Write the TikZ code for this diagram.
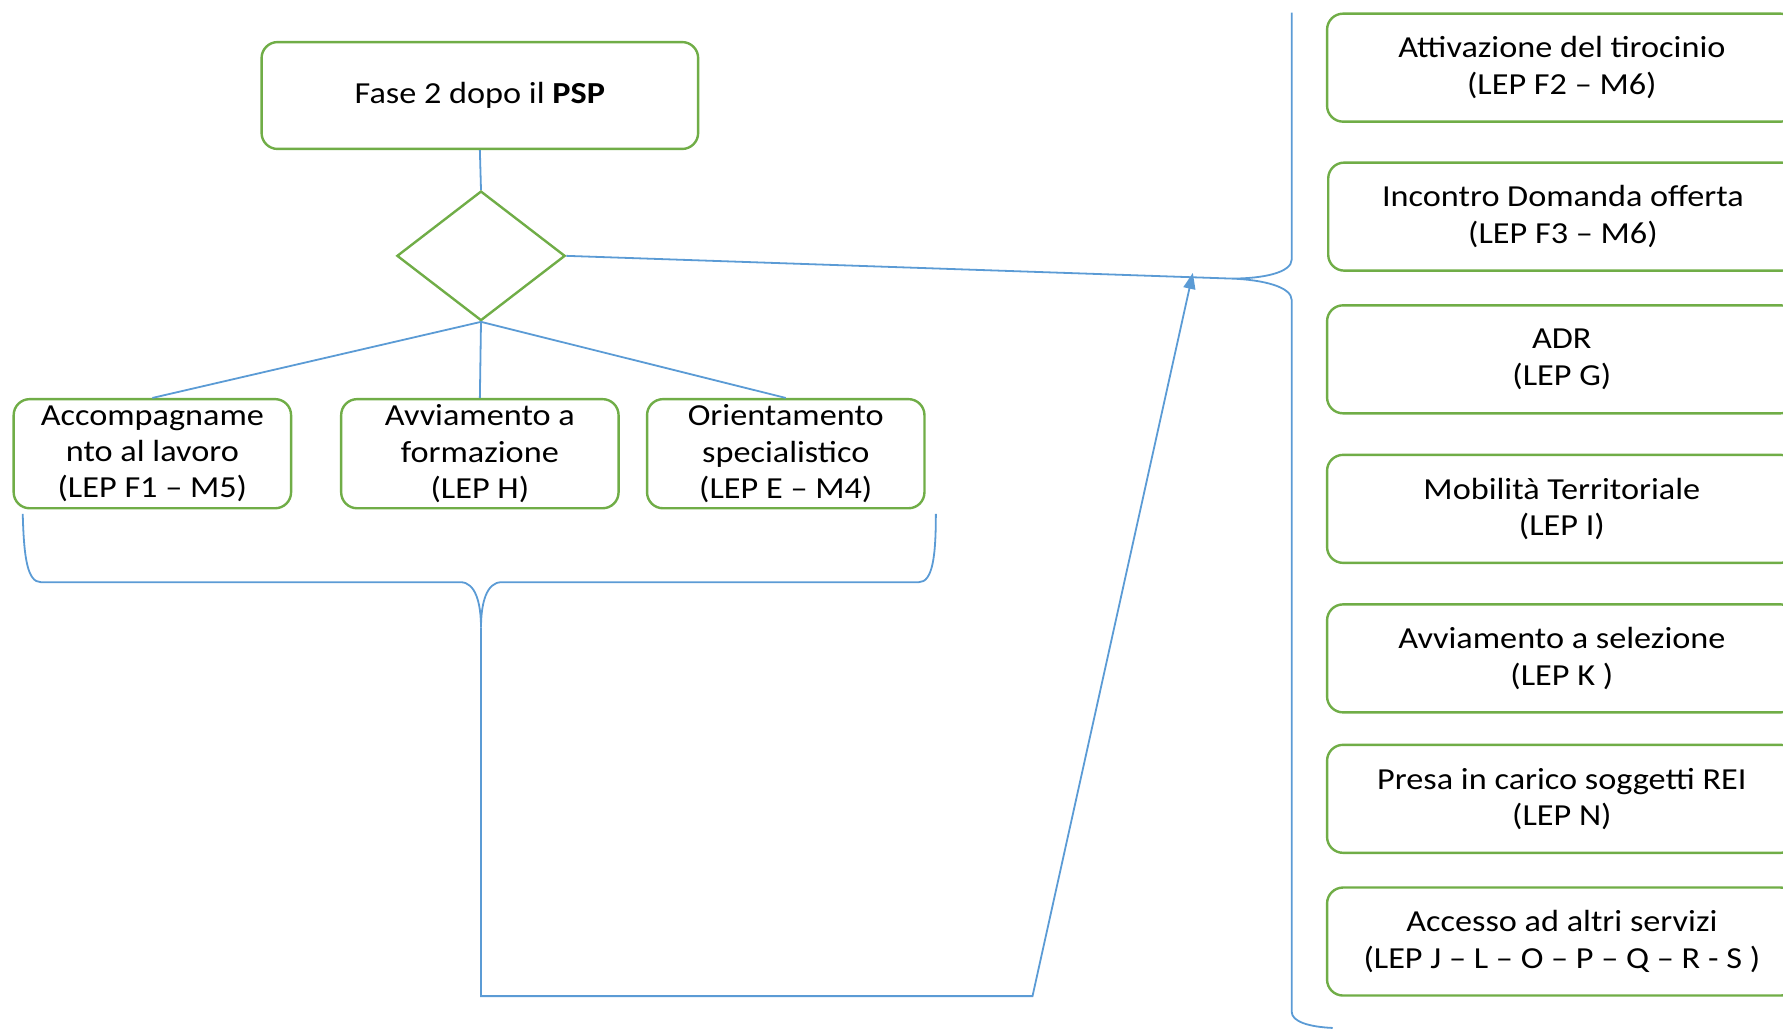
\documentclass[tikz,border=0pt]{standalone}
\usepackage{fontspec}
\setmainfont{Carlito}[FakeStretch=1.12]
\usetikzlibrary{shapes.geometric,arrows.meta}
\definecolor{boxgreen}{HTML}{70AD47}
\definecolor{lineblue}{HTML}{5B9BD5}
\begin{document}
\begin{tikzpicture}[x=0.02cm,y=-0.02cm,
  gbox/.style={draw=boxgreen,line width=1.2pt,rounded corners=8pt,align=center,inner sep=0pt,font=\fontsize{15.3}{18.2}\selectfont},
  lbox/.style={gbox,minimum width=4.88cm,minimum height=1.92cm},
  rbox/.style={gbox,minimum width=8.26cm,minimum height=1.9cm},
  conn/.style={draw=lineblue,line width=0.9pt}]
\useasboundingbox (0,0) rectangle (1568,905);
\clip (0,0) rectangle (1568,905);
% top and decision
\node[gbox,minimum width=7.68cm,minimum height=1.88cm] (top) at (422,84) {Fase 2 dopo il \textbf{PSP}};
\node[draw=boxgreen,line width=1.2pt,diamond,minimum width=2.96cm,minimum height=2.28cm,inner sep=0pt] (dec) at (423,225) {};
% left boxes
\node[lbox] (b1) at (134,399) {Accompagname\\nto al lavoro\\(LEP F1 – M5)};
\node[lbox] (b2) at (422,399) {Avviamento a\\formazione\\(LEP H)};
\node[lbox] (b3) at (691,399) {Orientamento\\specialistico\\(LEP E – M4)};
% right boxes
\node[rbox] (r1) at (1373.5,59.5) {Attivazione del tirocinio\\(LEP F2 – M6)};
\node[rbox] (r2) at (1374.5,190.5) {Incontro Domanda offerta\\(LEP F3 – M6)};
\node[rbox] (r3) at (1373.5,316) {ADR\\(LEP G)};
\node[rbox] (r4) at (1373.5,447.5) {Mobilità Territoriale\\(LEP I)};
\node[rbox] (r5) at (1373.5,579) {Avviamento a selezione\\(LEP K )};
\node[rbox] (r6) at (1373.5,702.5) {Presa in carico soggetti REI\\(LEP N)};
\node[rbox] (r7) at (1373.5,828) {Accesso ad altri servizi\\(LEP J – L – O – P – Q – R - S )};
% connectors
\draw[conn] (top.south) -- (dec.north);
\draw[conn] (dec.south) -- (b1.north);
\draw[conn] (dec.south) -- (b2.north);
\draw[conn] (dec.south) -- (b3.north);
% right brace
\coordinate (rtip) at (1083,245);
\draw[conn] (1136,11) -- (1136,228) .. controls (1136,240) and (1110,245) .. (rtip)
  .. controls (1110,246) and (1136,252) .. (1136,264) -- (1136,890)
  .. controls (1136,898) and (1150,903) .. (1172,904);
\draw[conn] (dec.east) -- (rtip);
% left brace
\coordinate (ltip) at (423,552);
\coordinate (lbend) at (908,876);
\coordinate (arrowend) at (1049,240);
\draw[conn] (20,452) .. controls (21,490) and (24,512) .. (36,512) -- (405,512)
  .. controls (418,512) and (423,530) .. (ltip)
  .. controls (423,530) and (428,512) .. (441,512) -- (808,512)
  .. controls (820,512) and (823,490) .. (823,452);
\draw[conn,-{Triangle[length=8pt,width=6pt]}] (ltip) -- (423,876) -- (lbend) -- (arrowend);
\end{tikzpicture}
\end{document}
